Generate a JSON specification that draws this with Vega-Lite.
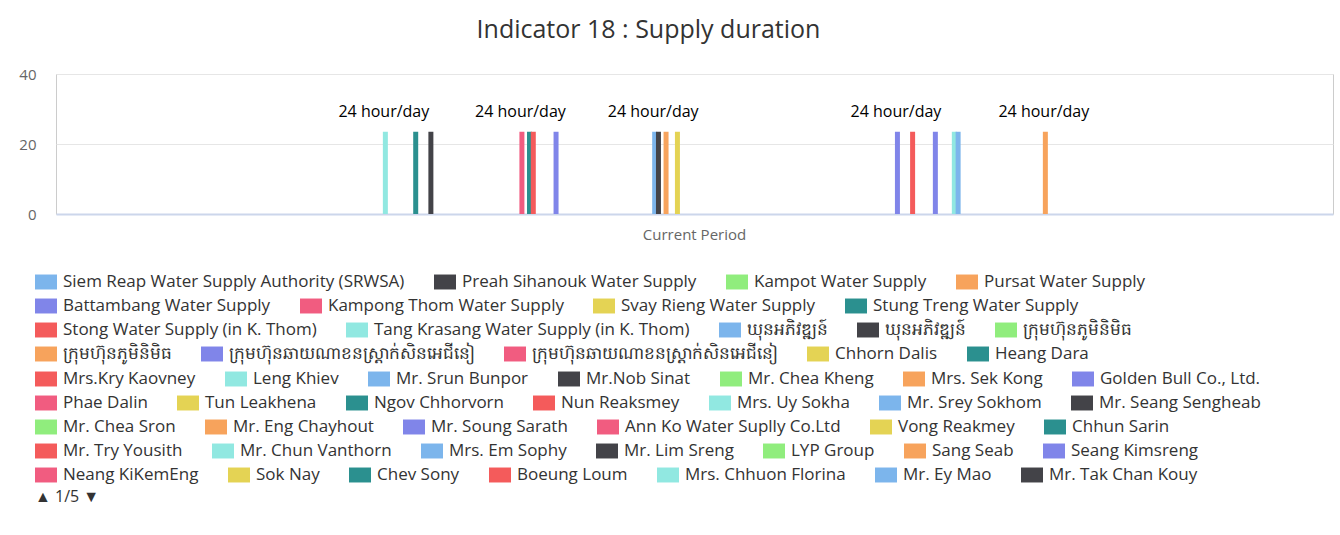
{
"$schema": "https://vega.github.io/schema/vega-lite/v6.json",
"autosize": "none",
"padding": {"left": 56, "top": 74, "right": 7, "bottom": 321},
"width": 1277,
"height": 140,
"background": "#ffffff",
"title": {"text": "Indicator 18 : Supply duration", "font": "Open Sans", "fontSize": 25, "fontWeight": "normal", "color": "#333333", "anchor": "middle", "frame": "group", "dx": -46, "offset": 24},
"data": {"values": [
{"period":"Current Period","series":"Siem Reap Water Supply Authority (SRWSA)","hours":0},
{"period":"Current Period","series":"Preah Sihanouk Water Supply","hours":0},
{"period":"Current Period","series":"Kampot Water Supply","hours":0},
{"period":"Current Period","series":"Pursat Water Supply","hours":0},
{"period":"Current Period","series":"Battambang Water Supply","hours":0},
{"period":"Current Period","series":"Kampong Thom Water Supply","hours":0},
{"period":"Current Period","series":"Svay Rieng Water Supply","hours":0},
{"period":"Current Period","series":"Stung Treng Water Supply","hours":0},
{"period":"Current Period","series":"Stong Water Supply (in K. Thom)","hours":0},
{"period":"Current Period","series":"Tang Krasang Water Supply (in K. Thom)","hours":0},
{"period":"Current Period","series":"ឃុនអភិវឌ្ឍន៍","hours":0},
{"period":"Current Period","series":"ឃុនអភិវឌ្ឍន៍\u200b","hours":0},
{"period":"Current Period","series":"ក្រុមហ៊ុនភូមិនិមិធ","hours":0},
{"period":"Current Period","series":"ក្រុមហ៊ុនភូមិនិមិធ\u200b","hours":0},
{"period":"Current Period","series":"ក្រុមហ៊ុនឆាយណាខនស្ត្រាក់សិនអេជីនៀ","hours":0},
{"period":"Current Period","series":"ក្រុមហ៊ុនឆាយណាខនស្ត្រាក់សិនអេជីនៀ\u200b","hours":0},
{"period":"Current Period","series":"Chhorn Dalis","hours":0},
{"period":"Current Period","series":"Heang Dara","hours":0},
{"period":"Current Period","series":"Mrs.Kry Kaovney","hours":0},
{"period":"Current Period","series":"Leng Khiev","hours":23.5,"label":"24 hour/day"},
{"period":"Current Period","series":"Mr. Srun Bunpor","hours":0},
{"period":"Current Period","series":"Mr.Nob Sinat","hours":0},
{"period":"Current Period","series":"Mr. Chea Kheng","hours":0},
{"period":"Current Period","series":"Mrs. Sek Kong","hours":0},
{"period":"Current Period","series":"Golden Bull Co., Ltd.","hours":0},
{"period":"Current Period","series":"Phae Dalin","hours":0},
{"period":"Current Period","series":"Tun Leakhena","hours":0},
{"period":"Current Period","series":"Ngov Chhorvorn","hours":23.5},
{"period":"Current Period","series":"Nun Reaksmey","hours":0},
{"period":"Current Period","series":"Mrs. Uy Sokha","hours":0},
{"period":"Current Period","series":"Mr. Srey Sokhom","hours":0},
{"period":"Current Period","series":"Mr. Seang Sengheab","hours":23.5},
{"period":"Current Period","series":"Mr. Chea Sron","hours":0},
{"period":"Current Period","series":"Mr. Eng Chayhout","hours":0},
{"period":"Current Period","series":"Mr. Soung Sarath","hours":0},
{"period":"Current Period","series":"Ann Ko Water Suplly Co.Ltd","hours":0},
{"period":"Current Period","series":"Vong Reakmey","hours":0},
{"period":"Current Period","series":"Chhun Sarin","hours":0},
{"period":"Current Period","series":"Mr. Try Yousith","hours":0},
{"period":"Current Period","series":"Mr. Chun Vanthorn","hours":0},
{"period":"Current Period","series":"Mrs. Em Sophy","hours":0},
{"period":"Current Period","series":"Mr. Lim Sreng","hours":0},
{"period":"Current Period","series":"LYP Group","hours":0},
{"period":"Current Period","series":"Sang Seab","hours":0},
{"period":"Current Period","series":"Seang Kimsreng","hours":0},
{"period":"Current Period","series":"Neang KiKemEng","hours":0},
{"period":"Current Period","series":"Sok Nay","hours":0},
{"period":"Current Period","series":"Chev Sony","hours":0},
{"period":"Current Period","series":"Boeung Loum","hours":0},
{"period":"Current Period","series":"Mrs. Chhuon Florina","hours":0},
{"period":"Current Period","series":"Mr. Ey Mao","hours":0},
{"period":"Current Period","series":"Mr. Tak Chan Kouy","hours":0},
{"period":"Current Period","series":"Series 53","hours":0},
{"period":"Current Period","series":"Series 54","hours":0},
{"period":"Current Period","series":"Series 55","hours":0},
{"period":"Current Period","series":"Series 56","hours":23.5,"label":"24 hour/day"},
{"period":"Current Period","series":"Series 57","hours":0},
{"period":"Current Period","series":"Series 58","hours":23.5},
{"period":"Current Period","series":"Series 59","hours":23.5},
{"period":"Current Period","series":"Series 60","hours":0},
{"period":"Current Period","series":"Series 61","hours":0},
{"period":"Current Period","series":"Series 62","hours":0},
{"period":"Current Period","series":"Series 63","hours":0},
{"period":"Current Period","series":"Series 64","hours":0},
{"period":"Current Period","series":"Series 65","hours":23.5},
{"period":"Current Period","series":"Series 66","hours":0},
{"period":"Current Period","series":"Series 67","hours":0},
{"period":"Current Period","series":"Series 68","hours":0},
{"period":"Current Period","series":"Series 69","hours":0},
{"period":"Current Period","series":"Series 70","hours":0},
{"period":"Current Period","series":"Series 71","hours":0},
{"period":"Current Period","series":"Series 72","hours":0},
{"period":"Current Period","series":"Series 73","hours":0},
{"period":"Current Period","series":"Series 74","hours":0},
{"period":"Current Period","series":"Series 75","hours":0},
{"period":"Current Period","series":"Series 76","hours":0},
{"period":"Current Period","series":"Series 77","hours":0},
{"period":"Current Period","series":"Series 78","hours":0},
{"period":"Current Period","series":"Series 79","hours":0},
{"period":"Current Period","series":"Series 80","hours":0},
{"period":"Current Period","series":"Series 81","hours":0},
{"period":"Current Period","series":"Series 82","hours":0},
{"period":"Current Period","series":"Series 83","hours":0},
{"period":"Current Period","series":"Series 84","hours":0},
{"period":"Current Period","series":"Series 85","hours":0},
{"period":"Current Period","series":"Series 86","hours":0},
{"period":"Current Period","series":"Series 87","hours":0},
{"period":"Current Period","series":"Series 88","hours":0},
{"period":"Current Period","series":"Series 89","hours":0},
{"period":"Current Period","series":"Series 90","hours":0},
{"period":"Current Period","series":"Series 91","hours":23.5,"label":"24 hour/day"},
{"period":"Current Period","series":"Series 92","hours":23.5},
{"period":"Current Period","series":"Series 93","hours":0},
{"period":"Current Period","series":"Series 94","hours":23.5},
{"period":"Current Period","series":"Series 95","hours":0},
{"period":"Current Period","series":"Series 96","hours":0},
{"period":"Current Period","series":"Series 97","hours":23.5},
{"period":"Current Period","series":"Series 98","hours":0},
{"period":"Current Period","series":"Series 99","hours":0},
{"period":"Current Period","series":"Series 100","hours":0},
{"period":"Current Period","series":"Series 101","hours":0},
{"period":"Current Period","series":"Series 102","hours":0},
{"period":"Current Period","series":"Series 103","hours":0},
{"period":"Current Period","series":"Series 104","hours":0},
{"period":"Current Period","series":"Series 105","hours":0},
{"period":"Current Period","series":"Series 106","hours":0},
{"period":"Current Period","series":"Series 107","hours":0},
{"period":"Current Period","series":"Series 108","hours":0},
{"period":"Current Period","series":"Series 109","hours":0},
{"period":"Current Period","series":"Series 110","hours":0},
{"period":"Current Period","series":"Series 111","hours":0},
{"period":"Current Period","series":"Series 112","hours":0},
{"period":"Current Period","series":"Series 113","hours":0},
{"period":"Current Period","series":"Series 114","hours":0},
{"period":"Current Period","series":"Series 115","hours":0},
{"period":"Current Period","series":"Series 116","hours":0},
{"period":"Current Period","series":"Series 117","hours":0},
{"period":"Current Period","series":"Series 118","hours":0},
{"period":"Current Period","series":"Series 119","hours":0},
{"period":"Current Period","series":"Series 120","hours":0},
{"period":"Current Period","series":"Series 121","hours":0},
{"period":"Current Period","series":"Series 122","hours":0},
{"period":"Current Period","series":"Series 123","hours":0},
{"period":"Current Period","series":"Series 124","hours":0},
{"period":"Current Period","series":"Series 125","hours":0},
{"period":"Current Period","series":"Series 126","hours":0},
{"period":"Current Period","series":"Series 127","hours":0},
{"period":"Current Period","series":"Series 128","hours":0},
{"period":"Current Period","series":"Series 129","hours":0},
{"period":"Current Period","series":"Series 130","hours":0},
{"period":"Current Period","series":"Series 131","hours":0},
{"period":"Current Period","series":"Series 132","hours":0},
{"period":"Current Period","series":"Series 133","hours":0},
{"period":"Current Period","series":"Series 134","hours":0},
{"period":"Current Period","series":"Series 135","hours":0},
{"period":"Current Period","series":"Series 136","hours":0},
{"period":"Current Period","series":"Series 137","hours":0},
{"period":"Current Period","series":"Series 138","hours":0},
{"period":"Current Period","series":"Series 139","hours":0},
{"period":"Current Period","series":"Series 140","hours":0},
{"period":"Current Period","series":"Series 141","hours":0},
{"period":"Current Period","series":"Series 142","hours":0},
{"period":"Current Period","series":"Series 143","hours":0},
{"period":"Current Period","series":"Series 144","hours":0},
{"period":"Current Period","series":"Series 145","hours":0},
{"period":"Current Period","series":"Series 146","hours":0},
{"period":"Current Period","series":"Series 147","hours":0},
{"period":"Current Period","series":"Series 148","hours":0},
{"period":"Current Period","series":"Series 149","hours":0},
{"period":"Current Period","series":"Series 150","hours":0},
{"period":"Current Period","series":"Series 151","hours":0},
{"period":"Current Period","series":"Series 152","hours":0},
{"period":"Current Period","series":"Series 153","hours":0},
{"period":"Current Period","series":"Series 154","hours":0},
{"period":"Current Period","series":"Series 155","hours":23.5,"label":"24 hour/day"},
{"period":"Current Period","series":"Series 156","hours":0},
{"period":"Current Period","series":"Series 157","hours":0},
{"period":"Current Period","series":"Series 158","hours":0},
{"period":"Current Period","series":"Series 159","hours":23.5},
{"period":"Current Period","series":"Series 160","hours":0},
{"period":"Current Period","series":"Series 161","hours":0},
{"period":"Current Period","series":"Series 162","hours":0},
{"period":"Current Period","series":"Series 163","hours":0},
{"period":"Current Period","series":"Series 164","hours":0},
{"period":"Current Period","series":"Series 165","hours":23.5},
{"period":"Current Period","series":"Series 166","hours":0},
{"period":"Current Period","series":"Series 167","hours":0},
{"period":"Current Period","series":"Series 168","hours":0},
{"period":"Current Period","series":"Series 169","hours":0},
{"period":"Current Period","series":"Series 170","hours":23.5},
{"period":"Current Period","series":"Series 171","hours":23.5},
{"period":"Current Period","series":"Series 172","hours":0},
{"period":"Current Period","series":"Series 173","hours":0},
{"period":"Current Period","series":"Series 174","hours":0},
{"period":"Current Period","series":"Series 175","hours":0},
{"period":"Current Period","series":"Series 176","hours":0},
{"period":"Current Period","series":"Series 177","hours":0},
{"period":"Current Period","series":"Series 178","hours":0},
{"period":"Current Period","series":"Series 179","hours":0},
{"period":"Current Period","series":"Series 180","hours":0},
{"period":"Current Period","series":"Series 181","hours":0},
{"period":"Current Period","series":"Series 182","hours":0},
{"period":"Current Period","series":"Series 183","hours":0},
{"period":"Current Period","series":"Series 184","hours":0},
{"period":"Current Period","series":"Series 185","hours":0},
{"period":"Current Period","series":"Series 186","hours":0},
{"period":"Current Period","series":"Series 187","hours":0},
{"period":"Current Period","series":"Series 188","hours":0},
{"period":"Current Period","series":"Series 189","hours":0},
{"period":"Current Period","series":"Series 190","hours":0},
{"period":"Current Period","series":"Series 191","hours":0},
{"period":"Current Period","series":"Series 192","hours":0},
{"period":"Current Period","series":"Series 193","hours":0},
{"period":"Current Period","series":"Series 194","hours":23.5,"label":"24 hour/day"},
{"period":"Current Period","series":"Series 195","hours":0},
{"period":"Current Period","series":"Series 196","hours":0},
{"period":"Current Period","series":"Series 197","hours":0},
{"period":"Current Period","series":"Series 198","hours":0},
{"period":"Current Period","series":"Series 199","hours":0},
{"period":"Current Period","series":"Series 200","hours":0},
{"period":"Current Period","series":"Series 201","hours":0},
{"period":"Current Period","series":"Series 202","hours":0}
]},
"resolve": {"scale": {"opacity": "independent"}, "legend": {"opacity": "independent"}},
"layer": [
{
"mark": {"type": "bar", "width": 5},
"encoding": {
"x": {"field": "period", "type": "nominal", "scale": {"paddingInner": 0, "paddingOuter": 0.33333},
 "axis": {"title": null, "labelAngle": 0, "ticks": false, "domainColor": "#ccd6eb", "domainWidth": 2, "labelPadding": 13, "labelColor": "#666666", "labelFontSize": 15, "labelFont": "Open Sans"}},
"xOffset": {"field": "series", "type": "nominal", "sort": null, "scale": {"paddingInner": 0, "paddingOuter": 0}},
"y": {"field": "hours", "type": "quantitative", "scale": {"domain": [0, 40], "nice": false},
 "axis": {"title": null, "values": [0, 20, 40], "domain": false, "ticks": false, "gridColor": "#e6e6e6", "labelColor": "#666666", "labelFontSize": 15, "labelFont": "Open Sans", "labelPadding": 20}},
"color": {"field": "series", "type": "nominal", "sort": null,
 "scale": {"range": ["#7cb5ec", "#434348", "#90ed7d", "#f7a35c", "#8085e9", "#f15c80", "#e4d354", "#2b908f", "#f45b5b", "#91e8e1"]},
 "legend": {"orient": "none", "legendX": -21, "legendY": 197, "title": null,
  "values": ["Siem Reap Water Supply Authority (SRWSA)", "Preah Sihanouk Water Supply", "Kampot Water Supply", "Pursat Water Supply"]}}
}
},
{
"mark": {"type": "text", "font": "Open Sans", "fontSize": 16, "fill": "#000000", "baseline": "alphabetic", "dy": -14.5, "dx": -1.5},
"encoding": {
"x": {"field": "period", "type": "nominal"},
"xOffset": {"field": "series", "type": "nominal", "sort": null},
"y": {"field": "hours", "type": "quantitative"},
"text": {"condition": {"test": "isValid(datum.label)", "field": "label", "type": "nominal"}, "value": ""}
}
},
{
"transform": [{"filter": {"field": "series", "oneOf": ["Battambang Water Supply", "Kampong Thom Water Supply", "Svay Rieng Water Supply", "Stung Treng Water Supply"]}}],
"mark": {"type": "point", "opacity": 0, "size": 0, "strokeWidth": 0, "filled": true},
"encoding": {"opacity": {"field": "series", "type": "nominal", "sort": null, "scale": {"range": [1, 1]},
 "legend": {"orient": "none", "legendX": -21, "legendY": 221, "title": null,
  "encoding": {"symbols": {"fill": {"value": {"expr": "scale('color', datum.value)"}}, "stroke": {"value": "transparent"}, "strokeWidth": {"value": 0}, "opacity": {"value": 1}, "fillOpacity": {"value": 1}, "shape": {"value": "M-1,-0.68L1,-0.68L1,0.68L-1,0.68Z"}, "size": {"value": 484}}}}}}
},
{
"transform": [{"filter": {"field": "series", "oneOf": ["Stong Water Supply (in K. Thom)", "Tang Krasang Water Supply (in K. Thom)", "ឃុនអភិវឌ្ឍន៍", "ឃុនអភិវឌ្ឍន៍\u200b", "ក្រុមហ៊ុនភូមិនិមិធ"]}}],
"mark": {"type": "point", "opacity": 0, "size": 0, "strokeWidth": 0, "filled": true},
"encoding": {"opacity": {"field": "series", "type": "nominal", "sort": null, "scale": {"range": [1, 1]},
 "legend": {"orient": "none", "legendX": -21, "legendY": 245, "title": null,
  "encoding": {"symbols": {"fill": {"value": {"expr": "scale('color', datum.value)"}}, "stroke": {"value": "transparent"}, "strokeWidth": {"value": 0}, "opacity": {"value": 1}, "fillOpacity": {"value": 1}, "shape": {"value": "M-1,-0.68L1,-0.68L1,0.68L-1,0.68Z"}, "size": {"value": 484}}}}}}
},
{
"transform": [{"filter": {"field": "series", "oneOf": ["ក្រុមហ៊ុនភូមិនិមិធ\u200b", "ក្រុមហ៊ុនឆាយណាខនស្ត្រាក់សិនអេជីនៀ", "ក្រុមហ៊ុនឆាយណាខនស្ត្រាក់សិនអេជីនៀ\u200b", "Chhorn Dalis", "Heang Dara"]}}],
"mark": {"type": "point", "opacity": 0, "size": 0, "strokeWidth": 0, "filled": true},
"encoding": {"opacity": {"field": "series", "type": "nominal", "sort": null, "scale": {"range": [1, 1]},
 "legend": {"orient": "none", "legendX": -21, "legendY": 269, "title": null,
  "encoding": {"symbols": {"fill": {"value": {"expr": "scale('color', datum.value)"}}, "stroke": {"value": "transparent"}, "strokeWidth": {"value": 0}, "opacity": {"value": 1}, "fillOpacity": {"value": 1}, "shape": {"value": "M-1,-0.68L1,-0.68L1,0.68L-1,0.68Z"}, "size": {"value": 484}}}}}}
},
{
"transform": [{"filter": {"field": "series", "oneOf": ["Mrs.Kry Kaovney", "Leng Khiev", "Mr. Srun Bunpor", "Mr.Nob Sinat", "Mr. Chea Kheng", "Mrs. Sek Kong", "Golden Bull Co., Ltd."]}}],
"mark": {"type": "point", "opacity": 0, "size": 0, "strokeWidth": 0, "filled": true},
"encoding": {"opacity": {"field": "series", "type": "nominal", "sort": null, "scale": {"range": [1, 1]},
 "legend": {"orient": "none", "legendX": -21, "legendY": 294, "title": null,
  "encoding": {"symbols": {"fill": {"value": {"expr": "scale('color', datum.value)"}}, "stroke": {"value": "transparent"}, "strokeWidth": {"value": 0}, "opacity": {"value": 1}, "fillOpacity": {"value": 1}, "shape": {"value": "M-1,-0.68L1,-0.68L1,0.68L-1,0.68Z"}, "size": {"value": 484}}}}}}
},
{
"transform": [{"filter": {"field": "series", "oneOf": ["Phae Dalin", "Tun Leakhena", "Ngov Chhorvorn", "Nun Reaksmey", "Mrs. Uy Sokha", "Mr. Srey Sokhom", "Mr. Seang Sengheab"]}}],
"mark": {"type": "point", "opacity": 0, "size": 0, "strokeWidth": 0, "filled": true},
"encoding": {"opacity": {"field": "series", "type": "nominal", "sort": null, "scale": {"range": [1, 1]},
 "legend": {"orient": "none", "legendX": -21, "legendY": 318, "title": null,
  "encoding": {"symbols": {"fill": {"value": {"expr": "scale('color', datum.value)"}}, "stroke": {"value": "transparent"}, "strokeWidth": {"value": 0}, "opacity": {"value": 1}, "fillOpacity": {"value": 1}, "shape": {"value": "M-1,-0.68L1,-0.68L1,0.68L-1,0.68Z"}, "size": {"value": 484}}}}}}
},
{
"transform": [{"filter": {"field": "series", "oneOf": ["Mr. Chea Sron", "Mr. Eng Chayhout", "Mr. Soung Sarath", "Ann Ko Water Suplly Co.Ltd", "Vong Reakmey", "Chhun Sarin"]}}],
"mark": {"type": "point", "opacity": 0, "size": 0, "strokeWidth": 0, "filled": true},
"encoding": {"opacity": {"field": "series", "type": "nominal", "sort": null, "scale": {"range": [1, 1]},
 "legend": {"orient": "none", "legendX": -21, "legendY": 342, "title": null,
  "encoding": {"symbols": {"fill": {"value": {"expr": "scale('color', datum.value)"}}, "stroke": {"value": "transparent"}, "strokeWidth": {"value": 0}, "opacity": {"value": 1}, "fillOpacity": {"value": 1}, "shape": {"value": "M-1,-0.68L1,-0.68L1,0.68L-1,0.68Z"}, "size": {"value": 484}}}}}}
},
{
"transform": [{"filter": {"field": "series", "oneOf": ["Mr. Try Yousith", "Mr. Chun Vanthorn", "Mrs. Em Sophy", "Mr. Lim Sreng", "LYP Group", "Sang Seab", "Seang Kimsreng"]}}],
"mark": {"type": "point", "opacity": 0, "size": 0, "strokeWidth": 0, "filled": true},
"encoding": {"opacity": {"field": "series", "type": "nominal", "sort": null, "scale": {"range": [1, 1]},
 "legend": {"orient": "none", "legendX": -21, "legendY": 366, "title": null,
  "encoding": {"symbols": {"fill": {"value": {"expr": "scale('color', datum.value)"}}, "stroke": {"value": "transparent"}, "strokeWidth": {"value": 0}, "opacity": {"value": 1}, "fillOpacity": {"value": 1}, "shape": {"value": "M-1,-0.68L1,-0.68L1,0.68L-1,0.68Z"}, "size": {"value": 484}}}}}}
},
{
"transform": [{"filter": {"field": "series", "oneOf": ["Neang KiKemEng", "Sok Nay", "Chev Sony", "Boeung Loum", "Mrs. Chhuon Florina", "Mr. Ey Mao", "Mr. Tak Chan Kouy"]}}],
"mark": {"type": "point", "opacity": 0, "size": 0, "strokeWidth": 0, "filled": true},
"encoding": {"opacity": {"field": "series", "type": "nominal", "sort": null, "scale": {"range": [1, 1]},
 "legend": {"orient": "none", "legendX": -21, "legendY": 390, "title": "▲ 1/5 ▼", "titleOrient": "bottom", "titleAnchor": "start", "titleFont": "Open Sans", "titleFontSize": 16, "titleFontWeight": "normal", "titleColor": "#333333", "titlePadding": 6,
  "encoding": {"symbols": {"fill": {"value": {"expr": "scale('color', datum.value)"}}, "stroke": {"value": "transparent"}, "strokeWidth": {"value": 0}, "opacity": {"value": 1}, "fillOpacity": {"value": 1}, "shape": {"value": "M-1,-0.68L1,-0.68L1,0.68L-1,0.68Z"}, "size": {"value": 484}}}}}}
}
],
"config": {
"view": {"stroke": "#cccccc", "strokeWidth": 1},
"font": "Open Sans",
"legend": {"direction": "horizontal", "padding": 0, "symbolType": "M-1,-0.68L1,-0.68L1,0.68L-1,0.68Z", "symbolSize": 484, "symbolStrokeWidth": 0, "labelFont": "Open Sans", "labelFontSize": 17, "labelColor": "#333333", "labelLimit": 700, "labelOffset": 6, "columnPadding": 29}
}
}
